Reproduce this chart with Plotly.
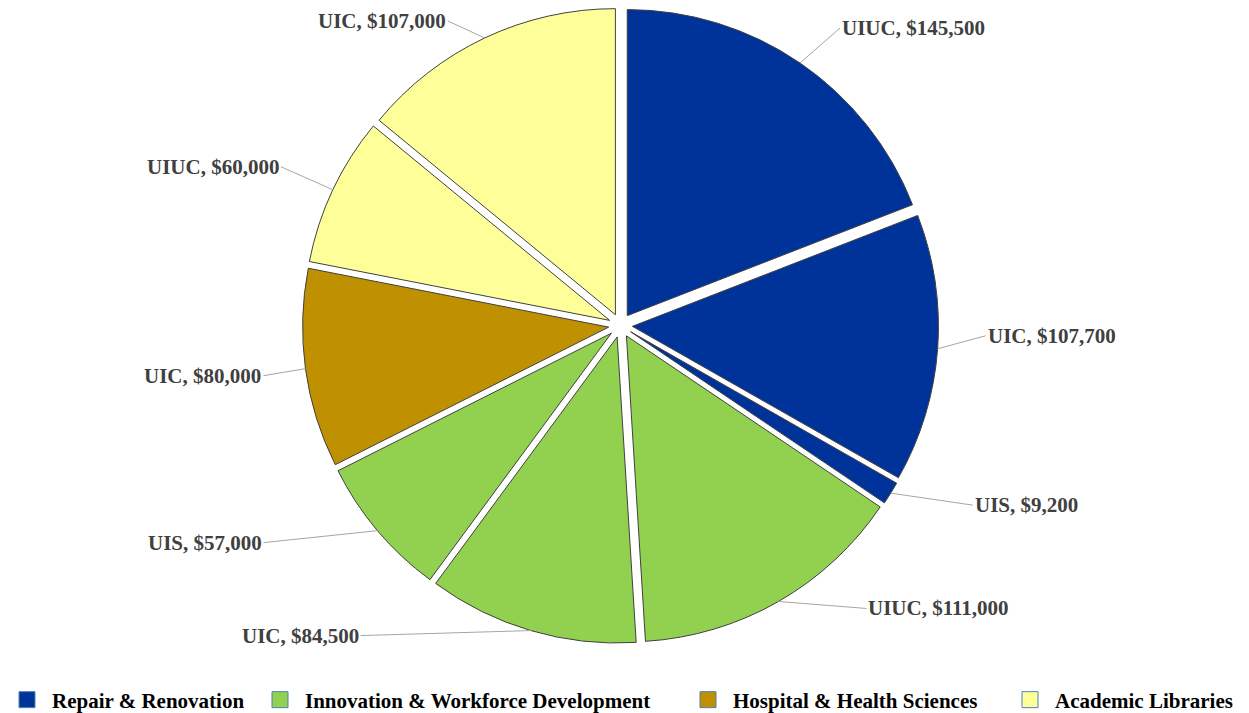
import math
import plotly.graph_objects as go

# ---------------- data ----------------
categories = ["Repair & Renovation", "Innovation & Workforce Development",
              "Hospital & Health Sciences", "Academic Libraries"]
campuses = ["UIUC", "UIC", "UIS", "UIUC", "UIC", "UIS", "UIC", "UIUC", "UIC"]
slice_category = [0, 0, 0, 1, 1, 1, 2, 3, 3]
amounts = [145500, 107700, 9200, 111000, 84500, 57000, 80000, 60000, 107000]

# ---------------- style ----------------
cat_colors = ["#003399", "#92D050", "#BF9000", "#FFFF99"]
W, H = 1249, 735           # a little taller than the window; bottom strip is off-view
CX, CY = 620.5, 325.5      # pie centre (px from top-left)
R_OUT = 318                # outer extent incl. pull (px)
PULL = 0.039
LEGEND_MID_PX = 700
label_font = dict(family="Liberation Serif", size=21, color="#404040")
# label text offsets from slice edge (px) -- layout only
label_offsets = [(40, -35), (48, -13), (82, 12), (88, 7), (-170, 5),
                 (-114, 12), (-42, 7), (-52, -23), (-37, -17)]
legend_x_px = [2, 255, 683, 1005]

slice_labels = [f"{c} - {categories[k]}" for c, k in zip(campuses, slice_category)]
slice_colors = [cat_colors[k] for k in slice_category]

fig = go.Figure()
fig.add_trace(go.Pie(
    labels=slice_labels,
    values=amounts,
    sort=False,
    direction="clockwise",
    rotation=0,
    pull=[PULL] * len(amounts),
    marker=dict(colors=slice_colors, line=dict(color="#404040", width=1)),
    textinfo="none",
    showlegend=False,
    domain=dict(x=[(CX - R_OUT) / W, (CX + R_OUT) / W],
                y=[(H - CY - R_OUT) / H, (H - CY + R_OUT) / H]),
))

# legend entries (one per category, each in its own legend box)
legend_font = dict(family="Liberation Serif", size=21, color="#000000", weight="bold")
layout_legends = {}
for i, (name, col) in enumerate(zip(categories, cat_colors)):
    key = "legend" if i == 0 else f"legend{i + 1}"
    fig.add_trace(go.Scatter(
        x=[None], y=[None], mode="markers", name=name, legend=key,
        marker=dict(symbol="square", size=16, color=col,
                    line=dict(color="#4F81BD", width=1)),
    ))
    layout_legends[key] = dict(
        orientation="h", x=legend_x_px[i] / W, xanchor="left",
        y=(H - LEGEND_MID_PX) / H, yanchor="middle", font=legend_font, itemwidth=40,
        bgcolor="rgba(0,0,0,0)",
    )

# data labels with leader lines, anchored at each slice's mid-angle edge
total = sum(amounts)
cum = 0
annotations = []
for camp, val, (ax, ay) in zip(campuses, amounts, label_offsets):
    mid = (cum + val / 2) / total * 2 * math.pi
    cum += val
    px = CX + R_OUT * math.sin(mid)
    py = CY - R_OUT * math.cos(mid)
    annotations.append(dict(
        x=px / W, y=1 - py / H, xref="paper", yref="paper",
        text=f"<b>{camp}, ${val:,}</b>",
        showarrow=True, arrowhead=0, arrowwidth=1, arrowcolor="#A6A6A6",
        ax=ax, ay=ay, xanchor="left" if ax > 0 else "right", yanchor="middle",
        font=label_font,
    ))

fig.update_layout(
    width=W, height=H,
    margin=dict(l=0, r=0, t=0, b=0),
    paper_bgcolor="white", plot_bgcolor="white",
    xaxis=dict(visible=False), yaxis=dict(visible=False),
    annotations=annotations,
    **layout_legends,
)

# remove the default 8px page margin so the figure sits at the window origin
fig.write_html("out.html", config={"displayModeBar": False},
               post_script="document.body.style.margin='0';document.body.style.overflow='hidden';")
